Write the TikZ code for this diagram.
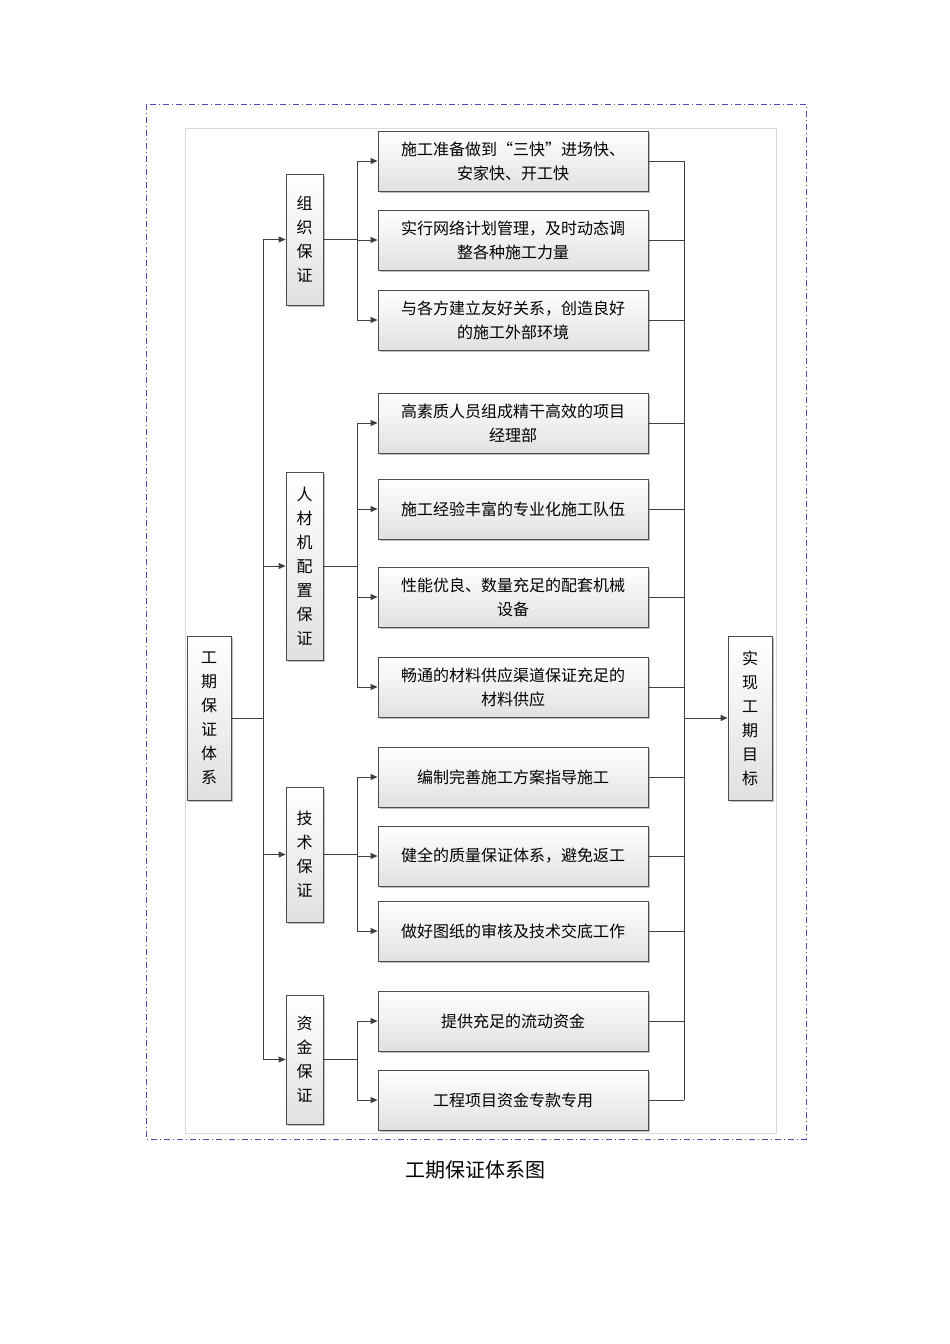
\documentclass[tikz,border=0pt]{standalone}
\usepackage{fontspec}
\setmainfont{Noto Sans CJK SC}
\usetikzlibrary{arrows.meta,shadows}
\begin{document}
\begin{tikzpicture}[x=1pt,y=-1pt,
 bx/.style={draw=black!70,line width=0.8pt,top color=white,bottom color=black!12,drop shadow={shadow xshift=2pt,shadow yshift=-2pt,opacity=0.5},inner sep=0pt,font=\fontsize{16}{24}\selectfont,align=center},
 ln/.style={draw=black!75,line width=0.9pt},
 ar/.style={ln,-{Triangle[length=7pt,width=6pt]}}]
\useasboundingbox (0,0) rectangle (950,1344);
\draw[blue!60!black!70,line width=0.9pt,dash pattern=on 6pt off 3pt on 1pt off 3pt] (146,104) rectangle (806,1139);
\draw[black!15] (185,128) rectangle (776,1133);
\node[bx,minimum width=44,minimum height=164] (root) at (209,718) {工\\期\\保\\证\\体\\系};
\node[bx,minimum width=44,minimum height=164] (goal) at (750,718) {实\\现\\工\\期\\目\\标};
\node[bx,minimum width=37,minimum height=131] (g1) at (304.5,239.5) {组\\织\\保\\证};
\node[bx,minimum width=37,minimum height=188] (g2) at (304.5,566) {人\\材\\机\\配\\置\\保\\证};
\node[bx,minimum width=37,minimum height=135] (g3) at (304.5,854.5) {技\\术\\保\\证};
\node[bx,minimum width=37,minimum height=129] (g4) at (304.5,1059.5) {资\\金\\保\\证};
\foreach \n/\y/\t in {1/161/{施工准备做到“三快”进场快、\\安家快、开工快},2/240/{实行网络计划管理，及时动态调\\整各种施工力量},3/320/{与各方建立友好关系，创造良好\\的施工外部环境},4/423/{高素质人员组成精干高效的项目\\经理部},5/509/{施工经验丰富的专业化施工队伍},6/597/{性能优良、数量充足的配套机械\\设备},7/687/{畅通的材料供应渠道保证充足的\\材料供应},8/777/{编制完善施工方案指导施工},9/856/{健全的质量保证体系，避免返工},10/931/{做好图纸的审核及技术交底工作},11/1021/{提供充足的流动资金},12/1100/{工程项目资金专款专用}}
 {\node[bx,minimum width=270,minimum height=60] (i\n) at (513,\y) {\t};}
\coordinate (rj) at (263,718);
\draw[ln] (root.east) -- (rj);
\draw[ln] (263,239.5) -- (263,1059.5);
\foreach \g in {g1,g2,g3,g4} \draw[ar] (263,0 |- \g.west) -- (\g.west);
\foreach \g/\a/\b in {g1/1/3,g2/4/7,g3/8/10,g4/11/12}{
 \draw[ln] (\g.east) -- (357,0 |- \g.east);
 \draw[ln] (357,0 |- i\a.west) -- (357,0 |- i\b.west);
 \foreach \i in {\a,...,\b} \draw[ar] (357,0 |- i\i.west) -- (i\i.west);}
\foreach \i in {1,...,12} \draw[ln] (i\i.east) -- (684,0 |- i\i.east);
\draw[ln] (684,161) -- (684,1100);
\draw[ar] (684,718) -- (goal.west);
\node[font=\fontsize{20}{24}\selectfont] (cap) at (475,1170) {工期保证体系图};
\end{tikzpicture}
\end{document}
